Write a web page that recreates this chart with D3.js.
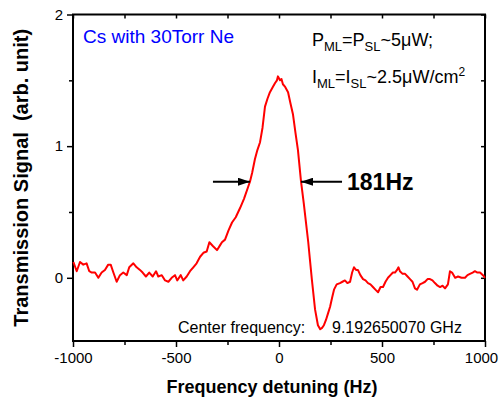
<!DOCTYPE html>
<html>
<head>
<meta charset="utf-8">
<script src="https://cdn.jsdelivr.net/npm/d3@7"></script>
<style>
  body { margin: 0; background: #fff; }
  text { font-family: "Liberation Sans", Arial, sans-serif; }
</style>
</head>
<body>
<div id="chart"></div>
<script>
// detuning (Hz) and signal
const freq = [-998, -982, -966, -950, -934, -921, -909, -893, -877, -861, -845, -829, -817, -804,
  -788, -772, -756, -739, -727, -707, -691, -675, -662, -646, -630, -613, -597, -586, -569,
  -553, -537, -521, -505, -494, -477, -465, -448, -432, -416, -400, -383, -367, -351, -338,
  -320, -301, -285, -277, -262, -245, -228, -210, -189, -170, -150, -141, -130, -117, -105,
  -92, -80, -68, -56, -44, -30, -19, -10, -5, 5, 12, 19, 30, 44, 55, 68, 80, 92, 107, 120,
  131, 142, 150, 160, 175, 189, 200, 209, 218, 228, 238, 248, 258, 267, 280, 296, 308, 320,
  332, 345, 355, 364, 374, 383, 395, 408, 420, 432, 444, 456, 468, 481, 493, 505, 517, 529,
  541, 553, 563, 573, 580, 587, 600, 612, 624, 636, 648, 660, 670, 684, 697, 709, 721, 733,
  745, 757, 770, 782, 794, 806, 820, 830, 840, 855, 869, 886, 903, 915, 927, 940, 951, 963,
  976, 990, 1000];
const signal = [0.12, 0.05, 0.12, 0.10, 0.11, 0.05, 0.04, 0.04, 0.00, 0.04, 0.06, 0.10, 0.10, 0.04,
  -0.03, 0.02, 0.04, 0.02, 0.08, 0.11, 0.08, 0.06, 0.04, 0.01, 0.04, 0.01, 0.05, 0.01, 0.02,
  -0.02, -0.03, 0.00, 0.02, -0.02, 0.02, -0.02, 0.01, 0.05, 0.08, 0.11, 0.16, 0.19, 0.20, 0.27,
  0.24, 0.21, 0.25, 0.27, 0.29, 0.36, 0.42, 0.46, 0.53, 0.60, 0.69, 0.73, 0.80, 0.90, 0.97,
  1.03, 1.14, 1.30, 1.36, 1.41, 1.45, 1.48, 1.50, 1.53, 1.50, 1.51, 1.47, 1.45, 1.41, 1.33, 1.24, 1.10, 0.97, 0.73, 0.57,
  0.42, 0.27, 0.14, -0.02, -0.24, -0.36, -0.39, -0.38, -0.36, -0.32, -0.27, -0.22, -0.15, -0.09, -0.05, -0.04, -0.03, -0.02,
  -0.04, -0.03, 0.04, 0.08, 0.06, 0.06, 0.02, -0.01, -0.02, -0.04, -0.05, -0.07, -0.09, -0.11, -0.07, -0.07, -0.03, 0.00,
  0.02, 0.04, 0.04, 0.06, 0.08, 0.05, 0.03, 0.03, 0.01, -0.01, -0.03, -0.08, -0.09, -0.05, -0.04, -0.03, -0.01, -0.01,
  -0.02, -0.04, -0.06, -0.07, -0.06, -0.08, -0.05, 0.05, 0.04, 0.00, 0.01, 0.00, 0.00, 0.02, 0.03, 0.04, 0.05, 0.04,
  0.04, 0.02, 0.00];

const xTicks = [-1000, -500, 0, 500, 1000];
const xMinor = [-750, -250, 250, 750];
const yTicks = [0, 1, 2];
const yMinor = [0.5, 1.5];
const halfWidth = [-141, 107]; // FWHM arrow tips at half maximum
const halfLevel = 0.73;

const margin = {top: 14.5, right: 15, bottom: 58, left: 73},
    width = 500 - margin.left - margin.right,
    height = 399 - margin.top - margin.bottom;

const svg = d3.select("#chart")
  .append("svg")
    .attr("width", 500)
    .attr("height", 399)
  .append("g")
    .attr("transform", `translate(${margin.left},${margin.top})`);

const x = d3.scaleLinear().domain([-1000, 1000]).range([0, width]);
const y = d3.scaleLinear().domain([-0.48, 2]).range([height, 0]);

// plain hyphen for negatives, like the original
const plain = d => String(d);

// axes: outer ticks bottom/left, inner ticks top/right
function styleAxis(g) {
  g.select(".domain").remove();
  g.selectAll("line").attr("stroke", "#000").attr("stroke-width", 1.5);
  g.selectAll("text").style("font-size", "15px").attr("fill", "#000");
}
const xAxisG = svg.append("g").attr("transform", `translate(0,${height})`)
  .call(d3.axisBottom(x).tickValues(xTicks).tickSize(6).tickPadding(5).tickFormat(plain))
  .call(styleAxis);
// last label sits at the window edge; nudge it so it stays inside
xAxisG.selectAll(".tick text").filter(d => d === 1000).attr("dx", -4);

svg.append("g").attr("transform", `translate(0,${height})`)
  .call(d3.axisBottom(x).tickValues(xMinor).tickSize(4).tickFormat(""))
  .call(styleAxis);
svg.append("g")
  .call(d3.axisLeft(y).tickValues(yTicks).tickSize(6).tickPadding(4).tickFormat(plain))
  .call(styleAxis);
svg.append("g")
  .call(d3.axisLeft(y).tickValues(yMinor).tickSize(4).tickFormat(""))
  .call(styleAxis);
svg.append("g")
  .call(d3.axisBottom(x).tickValues(xTicks.concat(xMinor)).tickSize(4).tickFormat(""))
  .call(styleAxis);
svg.append("g").attr("transform", `translate(${width},0)`)
  .call(d3.axisLeft(y).tickValues(yTicks.concat(yMinor)).tickSize(4).tickFormat(""))
  .call(styleAxis);

svg.append("rect")
  .attr("width", width).attr("height", height)
  .attr("fill", "none").attr("stroke", "#000").attr("stroke-width", 2);

// trace
const data = freq.map((f, i) => ({f: f, v: signal[i]}));
svg.append("path")
  .datum(data)
  .attr("d", d3.line().x(d => x(d.f)).y(d => y(d.v)))
  .attr("fill", "none")
  .attr("stroke", "#ff0000")
  .attr("stroke-width", 2)
  .attr("stroke-linejoin", "round");

// FWHM arrows
const defs = svg.append("defs");
defs.append("marker")
  .attr("id", "head").attr("viewBox", "0 0 12 8")
  .attr("refX", 12).attr("refY", 4)
  .attr("markerWidth", 12).attr("markerHeight", 8)
  .attr("markerUnits", "userSpaceOnUse")
  .attr("orient", "auto")
  .append("path").attr("d", "M0,0 L12,4 L0,8 Z").attr("fill", "#000");

svg.append("line")
  .attr("x1", x(halfWidth[0]) - 37).attr("x2", x(halfWidth[0]))
  .attr("y1", y(halfLevel)).attr("y2", y(halfLevel))
  .attr("stroke", "#000").attr("stroke-width", 2).attr("marker-end", "url(#head)");
svg.append("line")
  .attr("x1", x(halfWidth[1]) + 41).attr("x2", x(halfWidth[1]))
  .attr("y1", y(halfLevel)).attr("y2", y(halfLevel))
  .attr("stroke", "#000").attr("stroke-width", 2).attr("marker-end", "url(#head)");
svg.append("text")
  .attr("x", x(halfWidth[1]) + 46).attr("y", y(halfLevel) + 8)
  .style("font-size", "23px").style("font-weight", "bold")
  .text("181Hz");

// annotations
svg.append("text")
  .attr("x", 10).attr("y", 28)
  .style("font-size", "19px").attr("fill", "#0000ff")
  .text("Cs with 30Torr Ne");

const t1 = svg.append("text").attr("x", 239).attr("y", 31).style("font-size", "18px");
t1.append("tspan").text("P");
t1.append("tspan").attr("dy", 5).style("font-size", "13px").text("ML");
t1.append("tspan").attr("dy", -5).text("=P");
t1.append("tspan").attr("dy", 5).style("font-size", "13px").text("SL");
t1.append("tspan").attr("dy", -5).text("~5\u03bcW;");

const t2 = svg.append("text").attr("x", 239).attr("y", 68).style("font-size", "18px");
t2.append("tspan").text("I");
t2.append("tspan").attr("dy", 5).style("font-size", "13px").text("ML");
t2.append("tspan").attr("dy", -5).text("=I");
t2.append("tspan").attr("dy", 5).style("font-size", "13px").text("SL");
t2.append("tspan").attr("dy", -5).text("~2.5\u03bcW/cm");
t2.append("tspan").attr("dy", -7).style("font-size", "12px").text("2");

const t3 = svg.append("text").attr("x", 105).attr("y", 318).style("font-size", "16px");
t3.append("tspan").text("Center frequency:");
t3.append("tspan").attr("x", 259).text("9.192650070 GHz");

// axis titles
svg.append("text")
  .attr("x", width / 2 - 7).attr("y", height + 52)
  .attr("text-anchor", "middle")
  .style("font-size", "18px").style("font-weight", "bold")
  .text("Frequency detuning (Hz)");
svg.append("text")
  .attr("transform", `translate(${-45},${height / 2}) rotate(-90)`)
  .attr("text-anchor", "middle")
  .style("font-size", "20px").style("font-weight", "bold")
  .style("white-space", "pre")
  .text("Transmission Signal  (arb. unit)");
</script>
</body>
</html>
